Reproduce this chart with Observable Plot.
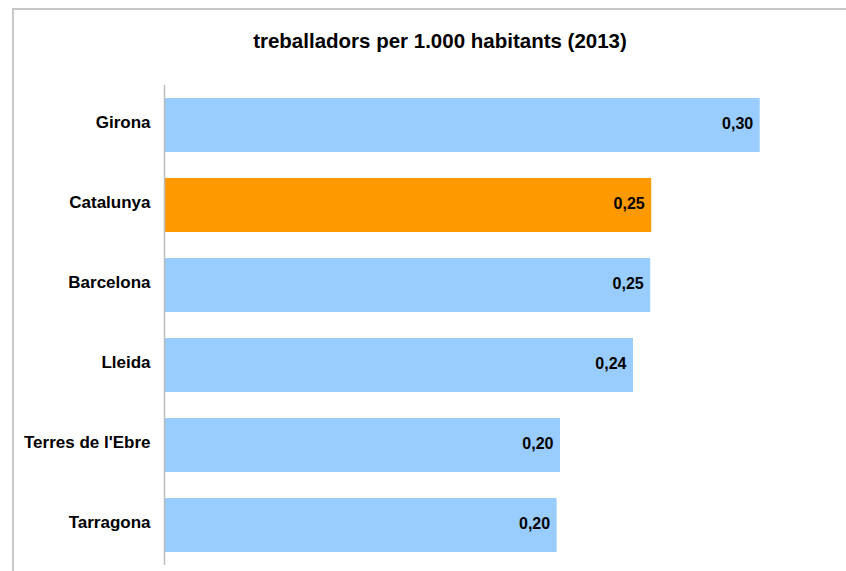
<!DOCTYPE html>
<html>
<head>
<meta charset="utf-8">
<script src="https://cdn.jsdelivr.net/npm/d3@7"></script>
<script src="https://cdn.jsdelivr.net/npm/@observablehq/plot@0.6"></script>
<style>
  html, body { margin: 0; padding: 0; background: #ffffff; }
  #wrap { position: relative; width: 846px; height: 571px; overflow: hidden; background: #fff; }
  #frame { position: absolute; left: 12px; top: 8px; width: 900px; height: 700px;
           border-top: 2px solid #c8c8c8; border-left: 2px solid #c8c8c8; box-sizing: border-box; }
  #chart { position: absolute; left: 0; top: 0; }
</style>
</head>
<body>
<div id="wrap">
  <div id="frame"></div>
  <div id="chart"></div>
</div>
<script>
const title = "treballadors per 1.000 habitants (2013)";
const categories = ["Girona", "Catalunya", "Barcelona", "Lleida", "Terres de l'Ebre", "Tarragona"];
const values = [0.3004, 0.2457, 0.2452, 0.2365, 0.1997, 0.198];
const highlight = "Catalunya";

const data = categories.map((c, i) => ({name: c, value: values[i]}));
const fmt = v => v.toFixed(2).replace(".", ",");
const font = "'Liberation Sans', Arial, sans-serif";

const chart = Plot.plot({
  width: 846,
  height: 571,
  marginLeft: 164,
  marginRight: 7.8,
  marginTop: 85,
  marginBottom: 6,
  style: {fontFamily: font, color: "#000", background: "transparent"},
  x: {domain: [0, 0.34], axis: null},
  y: {domain: categories, paddingInner: 0.325, paddingOuter: 0.1625, label: null},
  marks: [
    Plot.barX(data, {
      x: "value", y: "name",
      fill: d => d.name === highlight ? "#ff9900" : "#99ccff"
    }),
    Plot.ruleX([0], {stroke: "#bdbdbd", strokeWidth: 1.5, y1: undefined}),
    Plot.text(data, {
      x: "value", y: "name", text: d => fmt(d.value),
      textAnchor: "end", dx: -7, dy: -1.5, fontSize: 16, fontWeight: "bold", fill: "#000"
    }),
    Plot.axisY({
      tickSize: 0, tickPadding: 14, dy: -2.5, fontSize: 17, fontWeight: "bold", fill: "#000", label: null
    })
  ]
});

d3.select(chart).append("text")
  .attr("x", 440)
  .attr("y", 47.5)
  .attr("text-anchor", "middle")
  .attr("font-family", font)
  .attr("font-size", 20.5)
  .attr("font-weight", "bold")
  .attr("fill", "#000")
  .text(title);

document.getElementById("chart").appendChild(chart);
</script>
</body>
</html>
